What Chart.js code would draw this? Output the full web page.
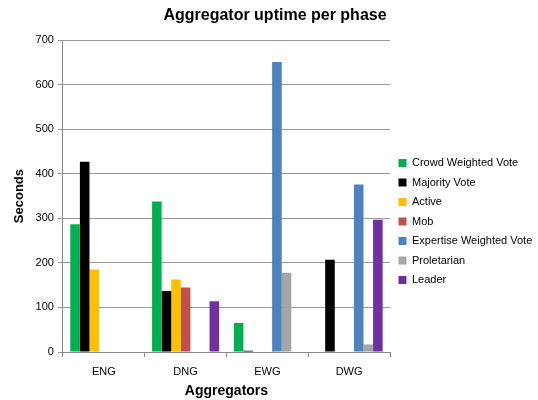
<!DOCTYPE html>
<html lang="en">
  <head>
    <meta charset="utf-8" />
    <title>Aggregator uptime per phase</title>
    <style>
      * {
        margin: 0;
        padding: 0;
      }
      body {
        background: white;
      }
      .chartBox {
        width: 538px;
        height: 400px;
      }
    </style>
  </head>
  <body>
    <div class="chartBox">
      <canvas id="myChart" width="538" height="400"></canvas>
    </div>
    <script src="https://cdn.jsdelivr.net/npm/chart.js"></script>
    <script>
      // data
      const phases = ['ENG', 'DNG', 'EWG', 'DWG'];
      const crowdWeighted = [287, 338, 65, 0];
      const majorityVote = [427, 137, 3, 207];
      const active = [185, 163, 0, 0];
      const mob = [0, 145, 0, 0];
      const expertiseWeighted = [0, 0, 651, 376];
      const proletarian = [0, 0, 178, 17];
      const leader = [0, 114, 0, 297];

      const font = "'Liberation Sans', sans-serif";

      const mk = (label, data, color) => ({
        label,
        data,
        backgroundColor: color,
        borderWidth: 0,
        categoryPercentage: 0.82,
        barPercentage: 1,
      });

      const config = {
        type: 'bar',
        data: {
          labels: phases,
          datasets: [
            mk('Crowd Weighted Vote', crowdWeighted, '#00b050'),
            mk('Majority Vote', majorityVote, '#000000'),
            mk('Active', active, '#ffc000'),
            mk('Mob', mob, '#c0504d'),
            mk('Expertise Weighted Vote', expertiseWeighted, '#4f81bd'),
            mk('Proletarian', proletarian, '#a5a5a5'),
            mk('Leader', leader, '#7030a0'),
          ],
        },
        options: {
          responsive: false,
          animation: false,
          layout: { padding: { left: 12, right: 0, top: 6, bottom: 0 } },
          plugins: {
            title: {
              display: true,
              text: 'Aggregator uptime per phase',
              color: '#000',
              font: { family: font, size: 16, weight: 'bold' },
              padding: { top: 0, bottom: 15 },
            },
            legend: {
              position: 'right',
              maxWidth: 148,
              // empty title only pushes the entries down a little
              title: {
                display: true,
                text: ' ',
                font: { family: font, size: 10 },
                padding: { top: 25, bottom: 0 },
              },
              labels: {
                color: '#000',
                boxWidth: 8,
                boxHeight: 8,
                padding: 8.5,
                font: { family: font, size: 11 },
              },
            },
            tooltip: { enabled: false },
          },
          scales: {
            x: {
              grid: {
                display: true,
                drawOnChartArea: false,
                offset: true,
                tickLength: 5,
                color: '#888',
              },
              border: { color: '#888' },
              ticks: { color: '#000', font: { family: font, size: 11 }, padding: 8 },
              title: {
                display: true,
                text: 'Aggregators',
                color: '#000',
                font: { family: font, size: 14, weight: 'bold' },
                padding: { top: -3, bottom: 0 },
              },
            },
            y: {
              min: 0,
              max: 700,
              ticks: { stepSize: 100, color: '#000', font: { family: font, size: 11 }, padding: 4 },
              grid: { color: '#999', tickLength: 5, lineWidth: 1 },
              border: { color: '#888' },
              title: {
                display: true,
                text: 'Seconds',
                color: '#000',
                font: { family: font, size: 13, weight: 'bold' },
                padding: { top: 0, bottom: 4 },
              },
            },
          },
        },
      };

      const myChart = new Chart(document.getElementById('myChart'), config);
    </script>
  </body>
</html>
